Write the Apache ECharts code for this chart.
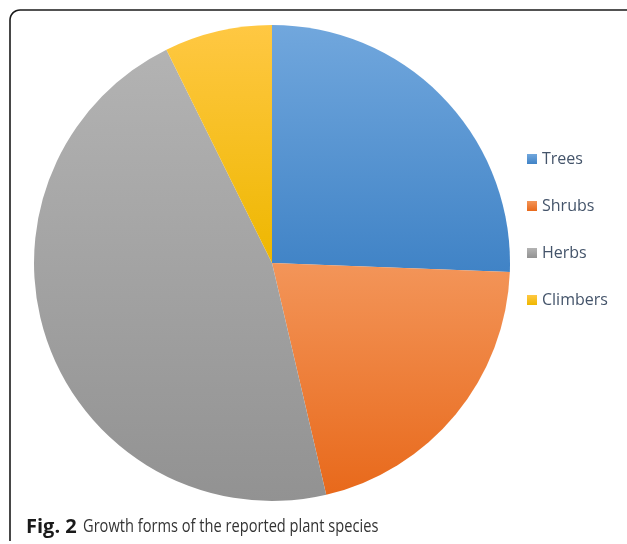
<!DOCTYPE html>
<html>
<head>
<meta charset="utf-8">
<script src="https://cdn.jsdelivr.net/npm/echarts@6/dist/echarts.min.js"></script>
<style>
  html, body { margin: 0; padding: 0; background: #fff; }
  #chart { width: 627px; height: 544px; }
</style>
</head>
<body>
<div id="chart"></div>
<script>
// Growth forms: number of reported species per form
const categories = ['Trees', 'Shrubs', 'Herbs', 'Climbers'];
const counts = [21, 17, 38, 6];

// Slice fills: light at the top of each slice, darker at the bottom
const topColors = ['#71a7dd', '#f39559', '#b3b3b3', '#ffc843'];
const bottomColors = ['#4083c6', '#e8691b', '#929292', '#eeb700'];

const captionBold = 'Fig. 2';
const captionText = 'Growth forms of the reported plant species';

function shade(i) {
  return {
    type: 'linear', x: 0, y: 0, x2: 0, y2: 1,
    colorStops: [
      { offset: 0, color: topColors[i] },
      { offset: 1, color: bottomColors[i] }
    ]
  };
}

// Frame along the left and top edges, with a rounded top-left corner
function framePoints() {
  const pts = [[10, 541], [10, 20]];
  const r = 10;
  for (let k = 1; k < 8; k++) {
    const a = Math.PI + (k / 8) * (Math.PI / 2);
    pts.push([20 + r * Math.cos(a), 20 + r * Math.sin(a)]);
  }
  pts.push([20, 10], [627, 10]);
  return pts;
}

const chart = echarts.init(document.getElementById('chart'), null, { renderer: 'canvas' });

chart.setOption({
  animation: false,
  backgroundColor: '#ffffff',
  legend: {
    orient: 'vertical',
    left: 522,
    top: 144,
    itemWidth: 10,
    itemHeight: 10,
    itemGap: 27,
    icon: 'rect',
    textStyle: {
      fontFamily: 'Open Sans',
      fontSize: 16,
      lineHeight: 20,
      color: '#44546a'
    },
    data: categories
  },
  series: [{
    type: 'pie',
    center: [272, 263],
    radius: 238,
    startAngle: 90,
    clockwise: true,
    label: { show: false },
    labelLine: { show: false },
    itemStyle: { borderWidth: 0 },
    data: categories.map((name, i) => ({
      name: name,
      value: counts[i],
      itemStyle: { color: shade(i) }
    }))
  }],
  graphic: [
    {
      type: 'polyline',
      shape: { points: framePoints() },
      style: { fill: null, stroke: '#1a1a1a', lineWidth: 1.6 }
    },
    {
      type: 'text',
      x: 26,
      y: 527,
      style: {
        text: captionBold,
        verticalAlign: 'middle',
        fontFamily: 'Open Sans',
        fontWeight: 'bold',
        fontSize: 20,
        fill: '#1a1a1a'
      }
    },
    {
      type: 'text',
      x: 83,
      y: 527,
      scaleX: 0.77,
      style: {
        text: captionText,
        verticalAlign: 'middle',
        fontFamily: 'Open Sans',
        fontSize: 19,
        fill: '#333333'
      }
    }
  ]
});
</script>
</body>
</html>
